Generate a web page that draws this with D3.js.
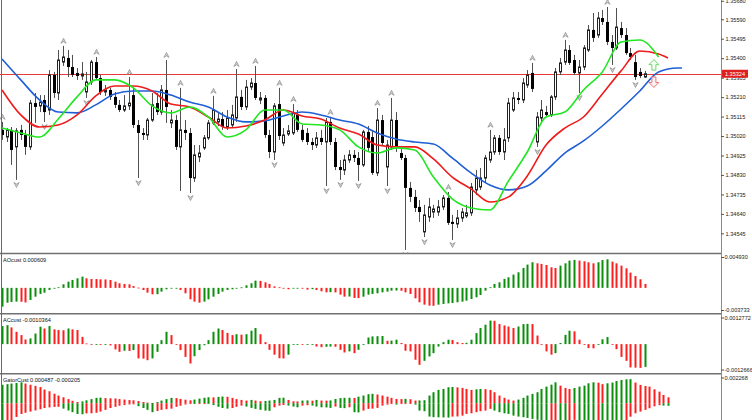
<!DOCTYPE html>
<html><head><meta charset="utf-8">
<script src="https://cdn.jsdelivr.net/npm/d3@7"></script>
<style>
body{margin:0;background:#fff}
svg{display:block}
text{font-family:"Liberation Sans",Arial,sans-serif}
</style>
</head><body>
<svg id="c" width="752" height="420"></svg>
<script>
// ---------------- DATA ----------------
const open = [1.35050,1.35015,1.35050,1.34967,1.35050,1.35025,1.34967,1.35181,1.35167,1.35196,
1.35147,1.35318,1.35230,1.35381,1.35401,1.35357,1.35328,1.35313,1.35235,1.35284,
1.35381,1.35303,1.35235,1.35245,1.35211,1.35172,1.35147,1.35167,1.35220,1.35074,
1.35035,1.35025,1.35098,1.35181,1.35137,1.35245,1.35084,1.35098,1.34967,1.35050,
1.35035,1.34815,1.34918,1.34962,1.35011,1.35084,1.35089,1.35103,1.35064,1.35074,
1.35108,1.35211,1.35162,1.35259,1.35279,1.35196,1.35206,1.35025,1.34942,1.35176,
1.34986,1.35030,1.35035,1.35123,1.35050,1.35035,1.34991,1.34976,1.35011,1.34991,
1.35089,1.34991,1.34869,1.34854,1.34903,1.34928,1.34913,1.34879,1.35040,1.35015,
1.34840,1.35098,1.34869,1.34967,1.35098,1.34937,1.34913,1.34767,1.34723,1.34674,
1.34552,1.34625,1.34649,1.34649,1.34674,1.34718,1.34601,1.34591,1.34620,1.34630,
1.34645,1.34757,1.34771,1.34815,1.34903,1.34942,1.35011,1.34942,1.35011,1.35147,
1.35206,1.35196,1.35269,1.35328,1.34991,1.35108,1.35137,1.35123,1.35211,1.35333,
1.35381,1.35440,1.35391,1.35328,1.35357,1.35440,1.35538,1.35513,1.35596,1.35577,
1.35479,1.35450,1.35547,1.35513,1.35425,1.35381,1.35333,1.35308];
const high = [1.35089,1.35059,1.35064,1.35059,1.35074,1.35050,1.35196,1.35230,1.35220,1.35220,
1.35342,1.35333,1.35440,1.35460,1.35440,1.35416,1.35352,1.35381,1.35333,1.35391,
1.35406,1.35318,1.35269,1.35255,1.35235,1.35196,1.35220,1.35308,1.35255,1.35098,
1.35059,1.35108,1.35230,1.35230,1.35269,1.35391,1.35147,1.35123,1.35255,1.35098,
1.35059,1.34976,1.34976,1.35025,1.35098,1.35216,1.35137,1.35137,1.35147,1.35172,
1.35347,1.35245,1.35294,1.35303,1.35362,1.35235,1.35220,1.35050,1.35181,1.35255,
1.35059,1.35074,1.35176,1.35147,1.35074,1.35059,1.35011,1.35040,1.35050,1.35108,
1.35113,1.35011,1.34903,1.34928,1.34952,1.34952,1.34942,1.35050,1.35069,1.35050,
1.35157,1.35123,1.35001,1.35206,1.35137,1.34962,1.34928,1.34796,1.34757,1.34708,
1.34684,1.34718,1.34684,1.34708,1.34732,1.34747,1.34635,1.34659,1.34669,1.34684,
1.34791,1.34854,1.34864,1.34928,1.35050,1.35025,1.35025,1.35059,1.35206,1.35235,
1.35235,1.35303,1.35342,1.35377,1.35137,1.35196,1.35167,1.35220,1.35352,1.35401,
1.35489,1.35464,1.35416,1.35391,1.35464,1.35562,1.35621,1.35625,1.35635,1.35650,
1.35513,1.35645,1.35577,1.35547,1.35450,1.35416,1.35352,1.35338];
const low = [1.35001,1.34991,1.34879,1.34806,1.35001,1.34928,1.34952,1.35084,1.35137,1.35089,
1.35123,1.35206,1.35196,1.35362,1.35308,1.35308,1.35294,1.35294,1.35206,1.35269,
1.35294,1.35220,1.35216,1.35196,1.35157,1.35137,1.35137,1.35147,1.35059,1.34815,
1.35001,1.35001,1.35089,1.35123,1.35123,1.35084,1.35059,1.34952,1.34752,1.35001,
1.34742,1.34796,1.34893,1.34952,1.35001,1.35074,1.35069,1.35050,1.35050,1.35059,
1.35089,1.35147,1.35147,1.35245,1.35196,1.35176,1.35011,1.34913,1.34903,1.35001,
1.34972,1.35020,1.35025,1.35040,1.34991,1.34976,1.34952,1.34962,1.34976,1.34776,
1.34976,1.34854,1.34806,1.34830,1.34889,1.34893,1.34801,1.34869,1.34942,1.34830,
1.34825,1.34972,1.34776,1.34952,1.34942,1.34903,1.34464,1.34698,1.34649,1.34601,
1.34527,1.34601,1.34620,1.34630,1.34659,1.34586,1.34513,1.34571,1.34601,1.34620,
1.34630,1.34732,1.34757,1.34796,1.34889,1.34928,1.34928,1.34903,1.34991,1.35137,
1.35176,1.35181,1.35255,1.35235,1.34967,1.35089,1.35113,1.35113,1.35196,1.35318,
1.35367,1.35367,1.35318,1.35230,1.35342,1.35430,1.35479,1.35499,1.35562,1.35464,
1.35367,1.35440,1.35499,1.35416,1.35391,1.35294,1.35303,1.35303];
const close = [1.35025,1.35050,1.34952,1.35045,1.35025,1.34967,1.35181,1.35162,1.35186,1.35137,
1.35318,1.35230,1.35391,1.35406,1.35357,1.35318,1.35313,1.35323,1.35284,1.35381,
1.35303,1.35235,1.35245,1.35211,1.35172,1.35147,1.35167,1.35181,1.35074,1.35035,
1.35025,1.35098,1.35172,1.35137,1.35245,1.35162,1.35098,1.34967,1.35050,1.35035,
1.34815,1.34928,1.34937,1.35011,1.35084,1.35147,1.35103,1.35064,1.35108,1.35123,
1.35211,1.35162,1.35259,1.35279,1.35206,1.35206,1.35025,1.34942,1.35167,1.35020,
1.35025,1.35045,1.35133,1.35050,1.35001,1.34991,1.34976,1.35011,1.34991,1.35089,
1.34991,1.34869,1.34854,1.34903,1.34928,1.34913,1.34879,1.35040,1.34962,1.34840,
1.35098,1.34986,1.34976,1.35098,1.34962,1.34913,1.34767,1.34723,1.34669,1.34649,
1.34635,1.34674,1.34664,1.34674,1.34718,1.34596,1.34591,1.34620,1.34649,1.34645,
1.34771,1.34815,1.34815,1.34913,1.34942,1.35011,1.34942,1.35001,1.35181,1.35206,
1.35196,1.35279,1.35318,1.35250,1.35113,1.35147,1.35123,1.35211,1.35333,1.35377,
1.35440,1.35377,1.35328,1.35357,1.35450,1.35538,1.35499,1.35596,1.35577,1.35479,
1.35450,1.35552,1.35513,1.35425,1.35406,1.35308,1.35313,1.35324];

// fractal bar indices
const fractalUp = [0,13,20,27,35,38,45,50,54,59,62,70,80,83,95,104,113,120,129];
const fractalDown = [3,9,18,29,40,58,69,72,76,82,86,90,96,114,123,130,135];

// Alligator lines (sampled every 4 bars, already shifted forward)
const jawBars = [0,4,8,12,16,20,24,28,32,36,40,44,48,52,56,60,64,68,72,76,80,84,88,92,96,100,104,108,112,116,120,124,128,132,136,140,144,145];
const jaw = [1.35396,1.35294,1.35196,1.35137,1.35133,1.35172,1.35225,1.35240,1.35240,1.35220,
1.35186,1.35162,1.35113,1.35089,1.35094,1.35118,1.35137,1.35123,1.35098,1.35079,
1.35035,1.35006,1.34991,1.34981,1.34913,1.34840,1.34781,1.34757,1.34776,1.34850,
1.34937,1.34996,1.35069,1.35152,1.35240,1.35333,1.35352,1.35352];
const teethBars = [0,4,8,12,16,20,24,28,32,36,40,44,48,52,56,60,64,68,72,76,80,84,88,92,96,100,104,108,112,116,120,124,128,132,136,140,142];
const teeth = [1.35245,1.35123,1.35064,1.35074,1.35123,1.35216,1.35264,1.35264,1.35240,1.35176,
1.35162,1.35113,1.35059,1.35069,1.35098,1.35147,1.35118,1.35103,1.35059,1.35030,
1.34976,1.34967,1.34967,1.34908,1.34820,1.34762,1.34698,1.34723,1.34825,1.34976,
1.35059,1.35113,1.35225,1.35338,1.35435,1.35420,1.35401];
const lipsBars = [0,4,8,12,16,20,24,28,32,36,40,44,48,52,56,60,64,68,72,76,80,84,88,92,96,100,104,108,112,116,120,124,128,132,136,140];
const lips = [1.35059,1.35035,1.35015,1.35103,1.35211,1.35294,1.35294,1.35255,1.35167,1.35133,
1.35162,1.35113,1.35015,1.35050,1.35147,1.35147,1.35079,1.35074,1.35050,1.34967,
1.34937,1.34962,1.34952,1.34820,1.34713,1.34669,1.34659,1.34801,1.34942,1.35113,
1.35137,1.35245,1.35333,1.35479,1.35489,1.35406];

const bidPrice = 1.35324;
const signalBar = 139, signalUpPrice = 1.35366, signalDownPrice = 1.35284;

const priceTicks = [1.35680,1.35590,1.35495,1.35400,1.35305,1.35210,1.35115,1.35020,1.34925,1.34830,1.34735,1.34640,1.34545];

const ao = [-0.00291,-0.00229,-0.00218,-0.00213,-0.00215,-0.00225,-0.00187,-0.00136,-0.00094,-0.00074,
-0.00032,-0.00012,0.00009,0.00055,0.00096,0.00122,0.00148,0.00174,0.00148,0.00137,
0.00136,0.00132,0.00130,0.00122,0.00096,0.00071,0.00060,0.00055,0.00029,0.00004,
-0.00033,-0.00074,-0.00100,-0.00098,-0.00058,-0.00022,-0.00007,-0.00005,-0.00032,-0.00084,
-0.00177,-0.00213,-0.00229,-0.00213,-0.00177,-0.00136,-0.00094,-0.00058,-0.00032,-0.00022,
-0.00007,0.00008,0.00040,0.00071,0.00112,0.00108,0.00086,0.00060,0.00024,0.00009,
-0.00007,-0.00022,-0.00010,-0.00005,-0.00012,-0.00027,-0.00020,-0.00033,-0.00053,-0.00069,
-0.00066,-0.00070,-0.00105,-0.00136,-0.00134,-0.00156,-0.00158,-0.00136,-0.00105,-0.00094,
-0.00084,-0.00069,-0.00058,-0.00043,-0.00041,-0.00045,-0.00069,-0.00094,-0.00162,-0.00223,
-0.00260,-0.00275,-0.00277,-0.00260,-0.00249,-0.00239,-0.00234,-0.00223,-0.00213,-0.00198,
-0.00172,-0.00146,-0.00110,-0.00043,0.00009,0.00060,0.00086,0.00138,0.00164,0.00205,
0.00241,0.00308,0.00360,0.00396,0.00380,0.00370,0.00354,0.00318,0.00308,0.00344,
0.00380,0.00422,0.00432,0.00422,0.00411,0.00396,0.00380,0.00396,0.00430,0.00442,
0.00406,0.00380,0.00344,0.00303,0.00236,0.00184,0.00133,0.000609];
const aoScale = [0.004930,-0.003733];

const ac = [0.00082,0.00086,0.00076,0.00056,0.00041,0.00021,0.00026,0.00048,0.00079,0.00071,
0.00082,0.00067,0.00064,0.00063,0.00071,0.00067,0.00064,0.00033,0.00003,-0.00002,
-0.00001,-0.00003,-0.00002,-0.00006,-0.00024,-0.00035,-0.00030,-0.00031,-0.00027,-0.00065,
-0.00066,-0.00073,-0.00065,-0.00035,0.00018,0.00056,0.00041,-0.00002,-0.00027,-0.00058,
-0.00088,-0.00055,-0.00027,-0.00005,0.00018,0.00056,0.00071,0.00064,0.00051,0.00041,
0.00045,0.00043,0.00045,0.00061,0.00073,0.00045,0.00009,-0.00026,-0.00048,-0.00064,
-0.00065,-0.00048,-0.00003,0.00000,-0.00003,-0.00002,-0.00001,-0.00011,-0.00014,-0.00012,
-0.00011,-0.00012,-0.00026,-0.00038,-0.00033,-0.00041,-0.00026,0.00000,0.00030,0.00035,
0.00036,0.00037,0.00015,0.00016,0.00020,0.00005,-0.00030,-0.00033,-0.00071,-0.00094,
-0.00076,-0.00056,-0.00041,-0.00011,0.00009,0.00020,0.00019,0.00009,0.00005,0.00006,
0.00020,0.00050,0.00073,0.00088,0.00107,0.00106,0.00091,0.00085,0.00080,0.00073,
0.00080,0.00091,0.00092,0.00091,0.00039,-0.00001,-0.00033,-0.00048,-0.00041,0.00005,
0.00042,0.00061,0.00058,0.00020,-0.00001,-0.00018,-0.00019,0.00000,0.00022,0.00032,
-0.00003,-0.00023,-0.00058,-0.00076,-0.00106,-0.00107,-0.00108,-0.0010364];
const acScale = [0.0012772,-0.0012666];

const gatorUp = [0.00151,0.00156,0.00161,0.00166,0.00171,0.00161,0.00151,0.00142,0.00132,0.00112,
0.00098,0.00078,0.00063,0.00049,0.00034,0.00020,0.00010,0.00015,0.00024,0.00034,
0.00044,0.00046,0.00042,0.00040,0.00039,0.00034,0.00030,0.00026,0.00024,0.00018,
0.00010,0.00005,0.00002,0.00010,0.00022,0.00034,0.00044,0.00042,0.00035,0.00029,
0.00024,0.00030,0.00038,0.00045,0.00049,0.00048,0.00052,0.00055,0.00053,0.00044,
0.00034,0.00027,0.00022,0.00027,0.00022,0.00016,0.00018,0.00022,0.00027,0.00044,
0.00045,0.00027,0.00016,0.00015,0.00022,0.00023,0.00021,0.00027,0.00022,0.00021,
0.00023,0.00035,0.00042,0.00044,0.00045,0.00043,0.00054,0.00063,0.00074,0.00077,
0.00071,0.00063,0.00054,0.00044,0.00035,0.00034,0.00036,0.00033,0.00022,0.00023,
0.00025,0.00063,0.00090,0.00109,0.00117,0.00131,0.00133,0.00130,0.00125,0.00117,
0.00109,0.00114,0.00117,0.00115,0.00109,0.00090,0.00063,0.00044,0.00030,0.00022,
0.00030,0.00044,0.00063,0.00076,0.00090,0.00117,0.00136,0.00152,0.00171,0.00144,
0.00125,0.00117,0.00125,0.00136,0.00144,0.00163,0.00171,0.00168,0.00156,0.00163,
0.00169,0.00182,0.00190,0.00196,0.00197,0.00169,0.00150,0.00141,0.00136,0.00114,
0.00095,0.00068,0.000487];
const gatorDown = [-0.00185,-0.00161,-0.00137,-0.00112,-0.00088,-0.00078,-0.00068,-0.00059,-0.00049,-0.00039,
-0.00034,-0.00030,-0.00029,-0.00044,-0.00059,-0.00073,-0.00088,-0.00090,-0.00083,-0.00082,
-0.00078,-0.00068,-0.00054,-0.00039,-0.00029,-0.00020,-0.00015,-0.00010,-0.00009,-0.00024,
-0.00039,-0.00054,-0.00073,-0.00063,-0.00054,-0.00049,-0.00044,-0.00029,-0.00020,-0.00010,
-0.00003,-0.00005,-0.00004,-0.00002,-0.00003,-0.00015,-0.00029,-0.00039,-0.00044,-0.00039,
-0.00029,-0.00019,-0.00027,-0.00038,-0.00046,-0.00054,-0.00060,-0.00062,-0.00033,-0.00019,
-0.00014,-0.00019,-0.00027,-0.00033,-0.00019,-0.00016,-0.00019,-0.00027,-0.00033,-0.00034,
-0.00038,-0.00027,-0.00038,-0.00040,-0.00033,-0.00073,-0.00075,-0.00060,-0.00046,-0.00044,
-0.00038,-0.00019,-0.00011,-0.00005,-0.00011,-0.00006,-0.00005,-0.00002,-0.00011,-0.00060,
-0.00065,-0.00109,-0.00114,-0.00115,-0.00116,-0.00117,-0.00109,-0.00108,-0.00101,-0.00087,
-0.00082,-0.00073,-0.00065,-0.00060,-0.00046,-0.00060,-0.00073,-0.00082,-0.00087,-0.00101,
-0.00109,-0.00114,-0.00120,-0.00128,-0.00135,-0.00142,-0.00150,-0.00146,-0.00140,-0.00143,
-0.00148,-0.00142,-0.00136,-0.00140,-0.00146,-0.00152,-0.00158,-0.00150,-0.00152,-0.00156,
-0.00160,-0.00163,-0.00166,-0.00140,-0.00110,-0.00082,-0.00068,-0.00054,-0.00041,-0.00025,
-0.00016,-0.00019,-0.000205];
const gatorScale = [0.002268];

// ---------------- DRAW ----------------
const svg = d3.select('#c');
const AX = 721;
const FS = 5.6;
const GREEN = '#0b8f0b', RED = '#ff1e1e';

const x = d3.scaleLinear().domain([0, 137]).range([2, 644.5]);
const px = i => Math.round(x(i));

const yMain = d3.scaleLinear().domain([1.34454, 1.35684]).range([252, 0]);
const yAO = d3.scaleLinear().domain([aoScale[1], aoScale[0]]).range([312, 256]);
const yAC = d3.scaleLinear().domain([acScale[1], acScale[0]]).range([372, 316]);
const yG = d3.scaleLinear().domain([-gatorScale[0], gatorScale[0]]).range([431, 375.5]);

const defs = svg.append('defs');
const clip = (id, y0, y1) => defs.append('clipPath').attr('id', id)
  .append('rect').attr('x', 0).attr('y', y0).attr('width', AX).attr('height', y1 - y0);
clip('cm', 0, 253); clip('cao', 255, 313); clip('cac', 315, 373); clip('cg', 375, 420);

// main panel
const gm = svg.append('g').attr('clip-path', 'url(#cm)');

// bid line
gm.append('line').attr('x1', 0).attr('x2', AX)
  .attr('y1', Math.round(yMain(bidPrice)) + 0.5).attr('y2', Math.round(yMain(bidPrice)) + 0.5)
  .attr('stroke', '#e83a3a').attr('stroke-width', 1);

// candles
const idx = d3.range(open.length);
const cg = gm.append('g');
cg.selectAll('line.w').data(idx).join('line')
  .attr('x1', i => px(i) + 0.5).attr('x2', i => px(i) + 0.5)
  .attr('y1', i => yMain(high[i])).attr('y2', i => yMain(low[i]))
  .attr('stroke', '#505050').attr('stroke-width', 1);
cg.selectAll('rect.b').data(idx).join('rect')
  .attr('x', i => close[i] >= open[i] ? px(i) - 0.5 : px(i) - 1)
  .attr('width', i => close[i] >= open[i] ? 2 : 3)
  .attr('y', i => yMain(Math.max(open[i], close[i])))
  .attr('height', i => Math.max(1, Math.abs(yMain(open[i]) - yMain(close[i]))))
  .attr('fill', i => close[i] >= open[i] ? '#fff' : '#000')
  .attr('stroke', i => close[i] >= open[i] ? '#222' : 'none')
  .attr('stroke-width', 1);

// fractals
const fr = gm.append('g');
fr.selectAll('path.u').data(fractalUp).join('path')
  .attr('d', i => { const cx = px(i) + 0.5, cy = yMain(high[i]) - 5;
    return `M${cx-2.6},${cy+2.4}L${cx},${cy-2.6}L${cx+2.6},${cy+2.4}L${cx},${cy+0.8}Z`; })
  .attr('fill', '#d0d0d0').attr('stroke', '#8c8c8c').attr('stroke-width', 0.7);
fr.selectAll('path.d').data(fractalDown).join('path')
  .attr('d', i => { const cx = px(i) + 0.5, cy = yMain(low[i]) + 5;
    return `M${cx-2.6},${cy-2.4}L${cx},${cy+2.6}L${cx+2.6},${cy-2.4}L${cx},${cy-0.8}Z`; })
  .attr('fill', '#d0d0d0').attr('stroke', '#8c8c8c').attr('stroke-width', 0.7);

// alligator
const line = d3.line().x(d => x(d[0])).y(d => yMain(d[1])).curve(d3.curveMonotoneX);
gm.append('path').datum(d3.zip(jawBars, jaw)).attr('d', line)
  .attr('fill', 'none').attr('stroke', '#1f5fd6').attr('stroke-width', 1.6);
gm.append('path').datum(d3.zip(teethBars, teeth)).attr('d', line)
  .attr('fill', 'none').attr('stroke', '#ee1b1b').attr('stroke-width', 1.6);
gm.append('path').datum(d3.zip(lipsBars, lips)).attr('d', line)
  .attr('fill', 'none').attr('stroke', '#22e622').attr('stroke-width', 1.6);

// signal arrows (hollow)
{
  const cx = x(signalBar), uy = yMain(signalUpPrice), dy = yMain(signalDownPrice);
  gm.append('path')
    .attr('d', `M${cx},${uy-5.5}L${cx+5},${uy-0.5}L${cx+2},${uy-0.5}L${cx+2},${uy+5}L${cx-2},${uy+5}L${cx-2},${uy-0.5}L${cx-5},${uy-0.5}Z`)
    .attr('fill', '#f4fff4').attr('stroke', '#6fd66f').attr('stroke-width', 1);
  gm.append('path')
    .attr('d', `M${cx},${dy+5.5}L${cx+5},${dy+0.5}L${cx+2},${dy+0.5}L${cx+2},${dy-5}L${cx-2},${dy-5}L${cx-2},${dy+0.5}L${cx-5},${dy+0.5}Z`)
    .attr('fill', '#fff4f4').attr('stroke', '#f07070').attr('stroke-width', 1);
}

// histogram helper
function hist(clipId, data, y, colorOf) {
  const g = svg.append('g').attr('clip-path', `url(#${clipId})`);
  g.selectAll('rect').data(d3.range(data.length)).join('rect')
    .attr('x', i => px(i) - 0.5).attr('width', 2)
    .attr('y', i => Math.min(y(0), y(data[i])))
    .attr('height', i => Math.max(0.8, Math.abs(y(data[i]) - y(0))))
    .attr('fill', i => colorOf(i));
}
const upCol = arr => i => (i === 0 || arr[i] > arr[i-1]) ? GREEN : RED;
const absCol = arr => i => (i === 0 || Math.abs(arr[i]) > Math.abs(arr[i-1])) ? GREEN : RED;

hist('cao', ao, yAO, upCol(ao));
hist('cac', ac, yAC, upCol(ac));
hist('cg', gatorUp, yG, upCol(gatorUp));
hist('cg', gatorDown, yG, absCol(gatorDown));

// panel labels
const lab = (t, y) => svg.append('text').attr('x', 3).attr('y', y).attr('font-size', FS)
  .attr('fill', '#111').text(t);
lab(`AOcust ${ao[ao.length-1]}`, 262);
lab(`ACcust ${ac[ac.length-1]}`, 322);
lab(`GatorCust ${gatorUp[gatorUp.length-1]} ${gatorDown[gatorDown.length-1]}`, 382);

// separators and borders
const sepCol = '#707070';
[253.5, 313.8, 373.8].forEach(yy => svg.append('line').attr('x1', 0).attr('x2', AX + 1)
  .attr('y1', yy).attr('y2', yy).attr('stroke', sepCol).attr('stroke-width', 1.6));
svg.append('line').attr('x1', AX + 0.5).attr('x2', AX + 0.5).attr('y1', 0).attr('y2', 420)
  .attr('stroke', '#8a8a8a').attr('stroke-width', 1);
svg.append('line').attr('x1', 1.5).attr('x2', 1.5).attr('y1', 0).attr('y2', 420)
  .attr('stroke', '#6a6a6a').attr('stroke-width', 1);

// main price axis
const axMain = d3.axisRight(yMain).tickValues(priceTicks).tickSize(3).tickPadding(1.5)
  .tickFormat(d => d.toFixed(5));
const ga = svg.append('g').attr('transform', `translate(${AX},0)`).call(axMain);
ga.select('.domain').remove();
ga.selectAll('line').attr('stroke', '#555');
ga.selectAll('text').attr('font-size', FS).attr('fill', '#222')
  .attr('font-family', '"Liberation Sans",Arial,sans-serif');

// sub-panel scale labels
const sub = (t, y) => {
  svg.append('line').attr('x1', AX).attr('x2', AX + 3).attr('y1', y).attr('y2', y).attr('stroke', '#555');
  svg.append('text').attr('x', AX + 3.5).attr('y', y).attr('dy', '0.35em').attr('font-size', FS)
    .attr('fill', '#222').text(t);
};
sub(aoScale[0].toFixed(6), 257.5);
sub(aoScale[1].toFixed(6), 310.5);
sub(acScale[0].toFixed(7), 318);
sub(acScale[1].toFixed(7), 370);
sub(gatorScale[0].toFixed(6), 378);

// bid price box
{
  const by = yMain(bidPrice);
  svg.append('rect').attr('x', AX + 1).attr('y', by - 4).attr('width', 26).attr('height', 8)
    .attr('fill', '#de1f1f');
  svg.append('text').attr('x', AX + 14).attr('y', by).attr('dy', '0.35em')
    .attr('text-anchor', 'middle').attr('font-size', FS).attr('fill', '#fff')
    .text(bidPrice.toFixed(5));
}
</script>
</body></html>
